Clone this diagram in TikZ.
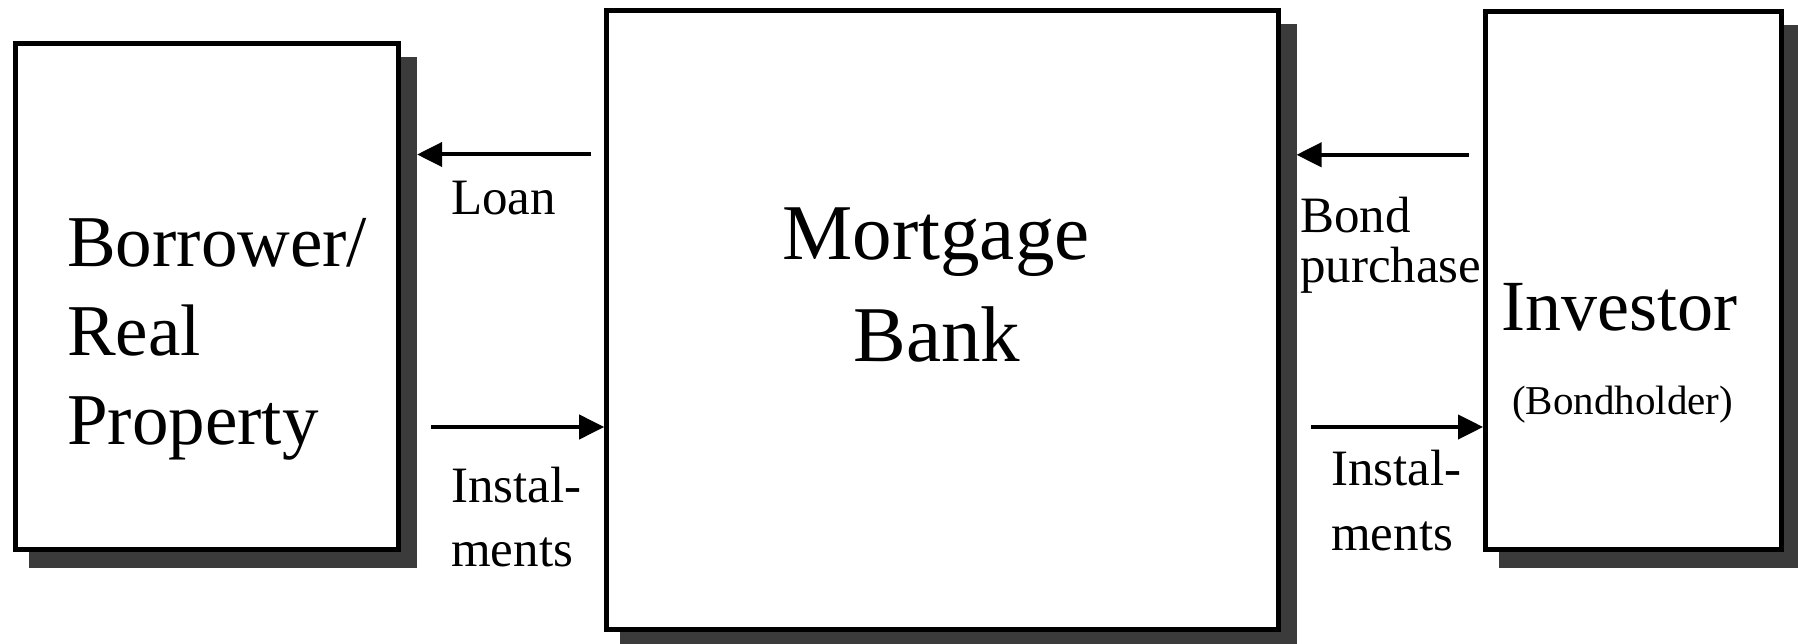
\documentclass[tikz,border=0pt]{standalone}
\usepackage{fontspec}
\setmainfont{Liberation Serif}
\usetikzlibrary{arrows.meta,backgrounds,calc}
\definecolor{shadowgray}{HTML}{3B3B3B}
\begin{document}
\begin{tikzpicture}[x=1pt,y=-1pt,
  box/.style={draw=black, line width=5pt, fill=white, rectangle, inner sep=0pt},
  flow/.style={line width=4pt, -{Triangle[length=25pt,width=24pt]}},
  txt/.style={inner sep=0pt, anchor=base west},
  small/.style={font=\fontsize{51}{60}\selectfont},
  big/.style={font=\fontsize{73}{89}\selectfont},
  huge/.style={font=\fontsize{79}{100}\selectfont},
]
\useasboundingbox (0,0) rectangle (1798,644);

% boxes
\node[box, minimum width=383.6pt, minimum height=506.3pt] (borrower) at (206.8,296.4) {};
\node[box, minimum width=671.3pt, minimum height=618.7pt] (bank) at (942.35,320.35) {};
\node[box, minimum width=295.4pt, minimum height=538.2pt] (investor) at (1633.3,280.4) {};

% shadows
\begin{scope}[on background layer]
  \foreach \n in {borrower,bank,investor}
    \fill[shadowgray] ([shift={(16,16)}]\n.north west) rectangle ([shift={(16,16)}]\n.south east);
\end{scope}

% box texts
\node[txt, big] (b1) at (67,266.6) {Borrower/};
\node[txt, big] (b2) at (67,355) {Real};
\node[txt, big] (b3) at (67,444) {Property};

\node[huge, inner sep=0pt, anchor=base] (m1) at (936,259.5) {Mortgage};
\node[huge, inner sep=0pt, anchor=base] (m2) at (936.7,361.4) {Bank};

\node[txt, font=\fontsize{72}{86}\selectfont] (i1) at (1501,330.6) {Investor};
\node[txt, font=\fontsize{41}{50}\selectfont] (i2) at (1512,414.8) {(Bondholder)};

% connectors
\coordinate (loanS) at (591,154.5);
\coordinate (inst1S) at (431,427);
\coordinate (bondS) at (1469,154.8);
\coordinate (inst2S) at (1310.7,427);

\draw[flow] (loanS) -- ($(borrower.east |- loanS)+(16,0)$);
\draw[flow] (inst1S) -- (bank.west |- inst1S);
\draw[flow] (bondS) -- ($(bank.east |- bondS)+(16,0)$);
\draw[flow] (inst2S) -- (investor.west |- inst2S);

% connector labels
\node[txt, small] (l1) at (451,214.8) {Loan};
\node[txt, small] (l2) at (451,502) {Instal-};
\node[txt, small] (l3) at (451,566) {ments};
\node[txt, small] (l4) at (1300,233) {Bond};
\node[txt, small] (l5) at (1300,282.5) {purchase};
\node[txt, small] (l6) at (1331,485.8) {Instal-};
\node[txt, small] (l7) at (1331,550.3) {ments};
\end{tikzpicture}
\end{document}
